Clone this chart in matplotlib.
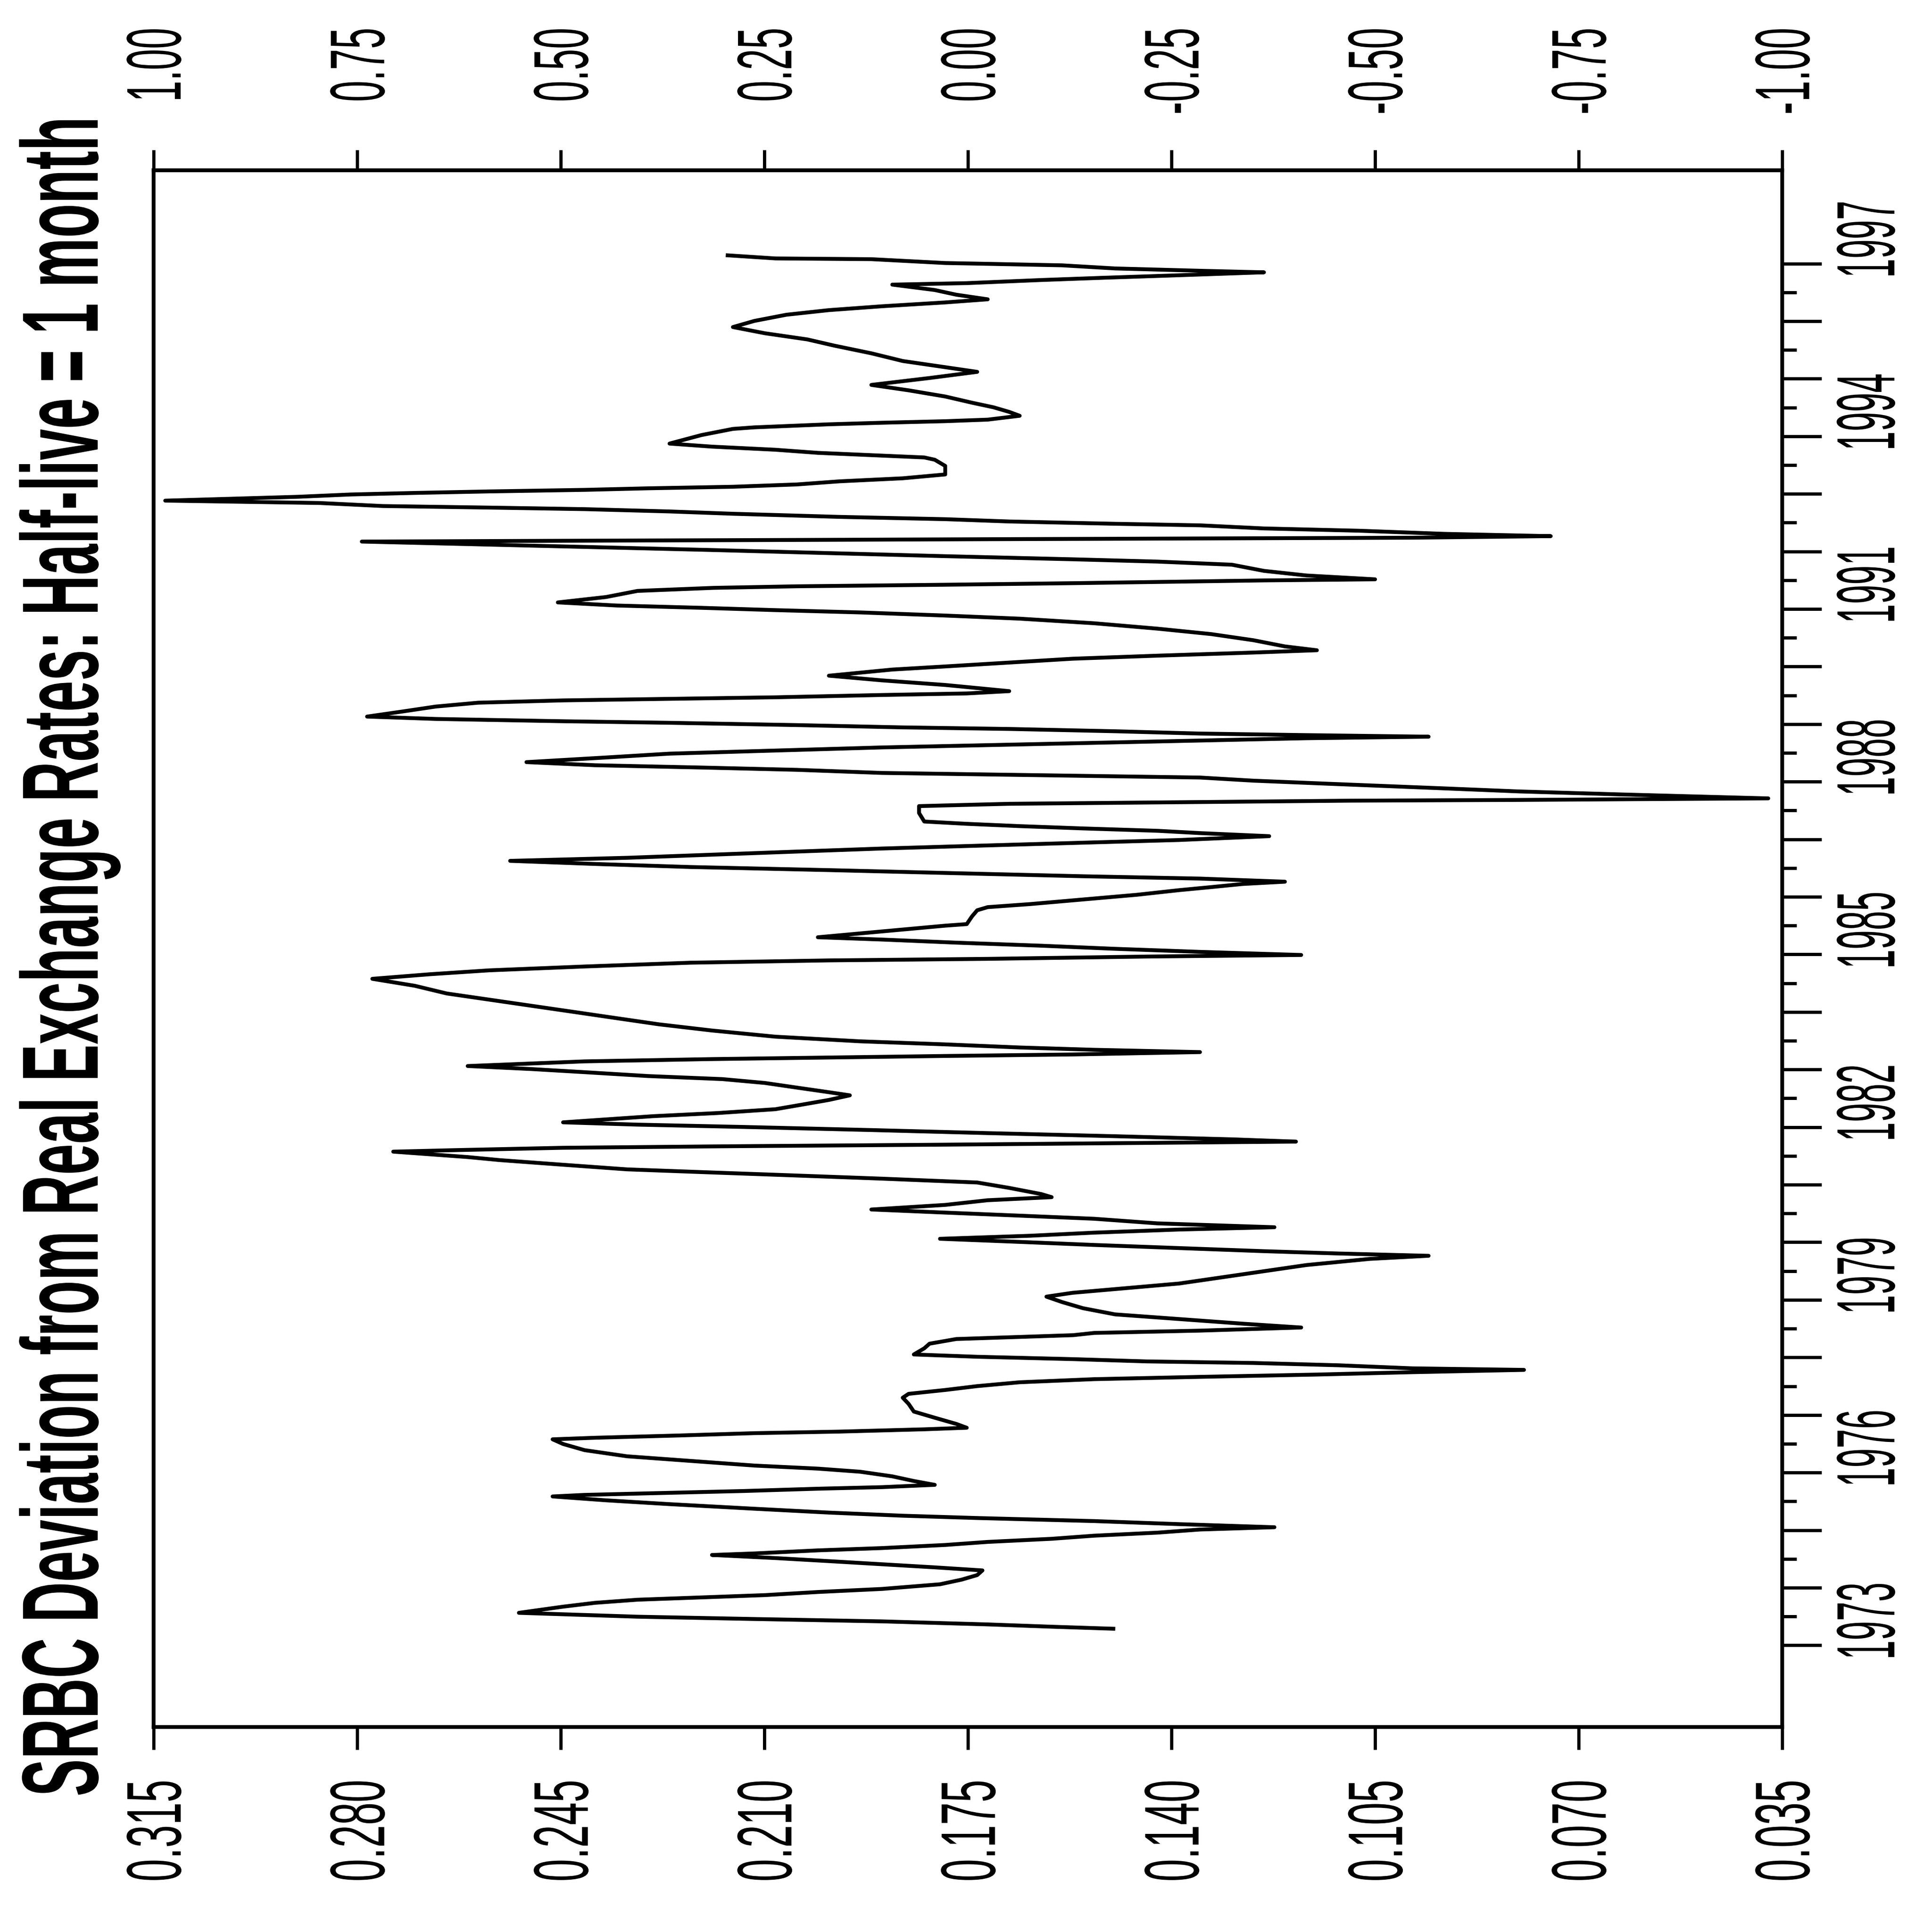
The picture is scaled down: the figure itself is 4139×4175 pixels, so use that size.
import numpy as np
import matplotlib
matplotlib.use("Agg")
import matplotlib.pyplot as plt
from matplotlib import patheffects
from matplotlib.font_manager import FontProperties
from matplotlib.transforms import Affine2D, blended_transform_factory, offset_copy

# SRBC deviation series (decimal year, deviation), newest observation first
dates = np.array([
    1997.143, 1997.089, 1997.076, 1997.009, 1996.995, 1996.969, 1996.915, 1996.875,
    1996.848, 1996.794, 1996.754, 1996.714, 1996.660, 1996.634, 1996.540, 1996.459,
    1996.379, 1996.325, 1996.258, 1996.191, 1996.111, 1996.004, 1995.897, 1995.789,
    1995.682, 1995.575, 1995.441, 1995.307, 1995.200, 1995.119, 1995.012, 1994.892,
    1994.798, 1994.691, 1994.583,
    1994.503, 1994.423, 1994.356, 1994.289, 1994.262, 1994.235, 1994.208, 1994.155,
    1994.128, 1994.021, 1993.873, 1993.820, 1993.766, 1993.712, 1993.672, 1993.632,
    1993.592, 1993.485, 1993.337, 1993.270, 1993.217, 1993.163, 1993.123, 1993.096,
    1993.069, 1993.042, 1993.016, 1992.989, 1992.949, 1992.882, 1992.841, 1992.788,
    1992.761, 1992.734, 1992.694, 1992.654, 1992.600, 1992.560, 1992.520, 1992.480,
    1992.453, 1992.399, 1992.359, 1992.305, 1992.265, 1992.238, 1992.225, 1992.212,
    1992.198, 1992.185, 1992.171, 1992.118, 1992.078, 1992.024, 1991.970, 1991.917,
    1991.863, 1991.823, 1991.769, 1991.662, 1991.582, 1991.515, 1991.496, 1991.475,
    1991.448, 1991.421, 1991.394, 1991.367, 1991.314,
    1991.208, 1991.114, 1991.060, 1991.020, 1990.980, 1990.940, 1990.886, 1990.832,
    1990.752, 1990.658, 1990.564, 1990.457, 1990.350, 1990.283, 1990.243, 1990.189,
    1990.136, 1990.069, 1990.002, 1989.948, 1989.894, 1989.841, 1989.760, 1989.680,
    1989.573, 1989.533, 1989.506, 1989.466, 1989.439, 1989.412, 1989.372, 1989.305,
    1989.224, 1989.131, 1989.090, 1989.050, 1989.023, 1988.983, 1988.943, 1988.916,
    1988.876, 1988.836, 1988.809, 1988.782, 1988.755, 1988.715, 1988.675, 1988.635,
    1988.595, 1988.541, 1988.487, 1988.420, 1988.340, 1988.286, 1988.246, 1988.206,
    1988.152, 1988.112, 1988.072,
    1988.018, 1987.965, 1987.884, 1987.831, 1987.777, 1987.710, 1987.683, 1987.670,
    1987.643, 1987.616, 1987.576, 1987.456, 1987.308, 1987.268, 1987.228, 1987.188,
    1987.147, 1987.107, 1987.054, 1986.987, 1986.946, 1986.893, 1986.839, 1986.786,
    1986.732, 1986.678, 1986.625, 1986.571, 1986.518, 1986.464, 1986.410, 1986.357,
    1986.317, 1986.263, 1986.223, 1986.169, 1986.116, 1986.035, 1985.955, 1985.874,
    1985.821, 1985.767, 1985.660, 1985.526, 1985.499, 1985.432, 1985.365, 1985.298,
    1985.258, 1985.204, 1985.151, 1985.097, 1985.044, 1984.990, 1984.963, 1984.923,
    1984.896, 1984.856,
    1984.790, 1984.723, 1984.656, 1984.576, 1984.455, 1984.321, 1984.214, 1984.107,
    1984.000, 1983.892, 1983.785, 1983.678, 1983.571, 1983.490, 1983.437, 1983.383,
    1983.343, 1983.303, 1983.262, 1983.236, 1983.209, 1983.182, 1983.142, 1983.061,
    1983.008, 1982.954, 1982.887, 1982.834, 1982.767, 1982.686, 1982.606, 1982.552,
    1982.472, 1982.391, 1982.311, 1982.244, 1982.190, 1982.083, 1982.043, 1982.003,
    1981.949, 1981.896, 1981.842, 1981.788, 1981.748, 1981.721, 1981.695, 1981.668,
    1981.641,
    1981.601, 1981.574, 1981.480, 1981.427, 1981.346, 1981.266, 1981.212, 1981.159,
    1981.105, 1981.038, 1980.944, 1980.837, 1980.783, 1980.730, 1980.649, 1980.569,
    1980.515, 1980.462, 1980.408, 1980.328, 1980.261, 1980.221, 1980.167, 1980.113,
    1980.060, 1980.006, 1979.953, 1979.899, 1979.845, 1979.805, 1979.765, 1979.711,
    1979.604, 1979.497, 1979.390, 1979.283, 1979.202, 1979.122, 1979.055, 1978.961,
    1978.854, 1978.747, 1978.666, 1978.586, 1978.519, 1978.465, 1978.425,
    1978.386, 1978.319, 1978.238, 1978.158, 1978.051, 1978.011, 1977.970, 1977.930,
    1977.903, 1977.863, 1977.810, 1977.783, 1977.743, 1977.702, 1977.662, 1977.622,
    1977.568, 1977.501, 1977.434, 1977.367, 1977.300, 1977.193, 1977.059, 1976.952,
    1976.845, 1976.778, 1976.751, 1976.711, 1976.684, 1976.644, 1976.604, 1976.577,
    1976.496, 1976.389, 1976.282, 1976.202, 1976.121, 1976.068, 1976.014, 1975.934,
    1975.853, 1975.786, 1975.746, 1975.719, 1975.679, 1975.639, 1975.612, 1975.585,
    1975.518, 1975.451, 1975.371, 1975.304, 1975.250, 1975.210,
    1975.157, 1975.104, 1975.050, 1975.010, 1974.956, 1974.903, 1974.849, 1974.795,
    1974.742, 1974.688, 1974.648, 1974.595, 1974.568, 1974.514, 1974.461, 1974.407,
    1974.353, 1974.300, 1974.219, 1974.139, 1974.059, 1973.978, 1973.925, 1973.871,
    1973.831, 1973.791, 1973.737, 1973.670, 1973.563, 1973.496, 1973.456, 1973.415,
    1973.362, 1973.322, 1973.287,
])

deviation = np.array([
    0.2163, 0.2081, 0.1916, 0.1789, 0.1716, 0.1588, 0.1497, 0.1351,
    0.1241, 0.1396, 0.1515, 0.1624, 0.1752, 0.1880, 0.1807, 0.1770,
    0.1716, 0.1789, 0.1898, 0.1989, 0.2062, 0.2117, 0.2154, 0.2099,
    0.2026, 0.1980, 0.1916, 0.1862, 0.1789, 0.1734, 0.1816, 0.1916,
    0.1852, 0.1789, 0.1743,
    0.1706, 0.1679, 0.1661, 0.1716, 0.1789, 0.1898, 0.1989, 0.2117,
    0.2154, 0.2208, 0.2263, 0.2190, 0.2081, 0.2008, 0.1916, 0.1825,
    0.1807, 0.1789, 0.1789, 0.1862, 0.1971, 0.2044, 0.2154, 0.2300,
    0.2409, 0.2573, 0.2701, 0.2811, 0.2902, 0.3130, 0.2865, 0.2756,
    0.2573, 0.2409, 0.2263, 0.2154, 0.1971, 0.1789, 0.1679, 0.1497,
    0.1351, 0.1241, 0.1077, 0.0931, 0.0748, 0.0986, 0.1351, 0.1716,
    0.2081, 0.2446, 0.2792, 0.2573, 0.2409, 0.2190, 0.1989, 0.1789,
    0.1570, 0.1424, 0.1296, 0.1241, 0.1168, 0.1050, 0.1241, 0.1387,
    0.1570, 0.1789, 0.2044, 0.2187, 0.2318,
    0.2372, 0.2455, 0.2354, 0.2208, 0.2081, 0.1935, 0.1789, 0.1661,
    0.1533, 0.1424, 0.1332, 0.1259, 0.1205, 0.1150, 0.1259, 0.1424,
    0.1570, 0.1679, 0.1789, 0.1880, 0.1935, 0.1989, 0.1898, 0.1789,
    0.1679, 0.1752, 0.1898, 0.2081, 0.2263, 0.2446, 0.2592, 0.2665,
    0.2719, 0.2783, 0.2665, 0.2446, 0.2263, 0.2044, 0.1862, 0.1679,
    0.1497, 0.1351, 0.1168, 0.0958, 0.1168, 0.1351, 0.1533, 0.1716,
    0.1898, 0.2081, 0.2263, 0.2373, 0.2509, 0.2391, 0.2208, 0.2044,
    0.1898, 0.1624, 0.1351,
    0.1260, 0.1132, 0.0931, 0.0803, 0.0621, 0.0374, 0.0803, 0.1095,
    0.1387, 0.1679, 0.1834, 0.1834, 0.1825, 0.1752, 0.1661, 0.1552,
    0.1424, 0.1351, 0.1232, 0.1387, 0.1533, 0.1716, 0.1898, 0.2044,
    0.2190, 0.2336, 0.2537, 0.2391, 0.2227, 0.1989, 0.1770, 0.1551,
    0.1351, 0.1205, 0.1278, 0.1332, 0.1387, 0.1460, 0.1551, 0.1643,
    0.1716, 0.1734, 0.1743, 0.1752, 0.1789, 0.1862, 0.1935, 0.2008,
    0.1898, 0.1770, 0.1624, 0.1497, 0.1351, 0.1177, 0.1442, 0.1716,
    0.1989, 0.2227,
    0.2409, 0.2573, 0.2674, 0.2774, 0.2701, 0.2646, 0.2573, 0.2500,
    0.2427, 0.2354, 0.2281, 0.2190, 0.2081, 0.1935, 0.1789, 0.1661,
    0.1533, 0.1351, 0.1570, 0.1789, 0.1989, 0.2190, 0.2409, 0.2610,
    0.2500, 0.2409, 0.2300, 0.2172, 0.2099, 0.2044, 0.1989, 0.1953,
    0.1989, 0.2035, 0.2081, 0.2181, 0.2291, 0.2446, 0.2318, 0.2136,
    0.1916, 0.1716, 0.1497, 0.1296, 0.1186, 0.1497, 0.1789, 0.2154,
    0.2446,
    0.2628, 0.2738, 0.2610, 0.2555, 0.2446, 0.2336, 0.2190, 0.2044,
    0.1898, 0.1734, 0.1679, 0.1624, 0.1606, 0.1716, 0.1789, 0.1916,
    0.1789, 0.1661, 0.1533, 0.1424, 0.1223, 0.1387, 0.1533, 0.1643,
    0.1798, 0.1661, 0.1533, 0.1387, 0.1241, 0.1113, 0.0958, 0.1059,
    0.1168, 0.1241, 0.1314, 0.1387, 0.1479, 0.1570, 0.1615, 0.1588,
    0.1552, 0.1497, 0.1387, 0.1278, 0.1177, 0.1351, 0.1533,
    0.1569, 0.1770, 0.1816, 0.1825, 0.1843, 0.1734, 0.1570, 0.1442,
    0.1259, 0.1113, 0.0986, 0.0794, 0.0986, 0.1150, 0.1351, 0.1533,
    0.1661, 0.1734, 0.1789, 0.1852, 0.1862, 0.1852, 0.1843, 0.1807,
    0.1770, 0.1752, 0.1825, 0.1971, 0.2117, 0.2245, 0.2391, 0.2464,
    0.2446, 0.2409, 0.2336, 0.2227, 0.2117, 0.2008, 0.1935, 0.1880,
    0.1843, 0.1807, 0.1898, 0.2008, 0.2136, 0.2300, 0.2409, 0.2464,
    0.2373, 0.2263, 0.2117, 0.1989, 0.1862, 0.1734,
    0.1533, 0.1387, 0.1223, 0.1351, 0.1424, 0.1533, 0.1606, 0.1716,
    0.1789, 0.1898, 0.2008, 0.2117, 0.2190, 0.2081, 0.1989, 0.1898,
    0.1807, 0.1725, 0.1734, 0.1761, 0.1798, 0.1898, 0.2008, 0.2099,
    0.2208, 0.2318, 0.2391, 0.2446, 0.2522, 0.2318, 0.2117, 0.1898,
    0.1716, 0.1606, 0.1500,
])

left_ticks = [0.315, 0.280, 0.245, 0.210, 0.175, 0.140, 0.105, 0.070, 0.035]
left_labels = ["0.315", "0.280", "0.245", "0.210", "0.175", "0.140", "0.105", "0.070", "0.035"]
right_ticks = [1.00, 0.75, 0.50, 0.25, 0.00, -0.25, -0.50, -0.75, -1.00]
right_labels = ["1.00", "0.75", "0.50", "0.25", "0.00", "-0.25", "-0.50", "-0.75", "-1.00"]
year_ticks = np.arange(1973, 1998)
half_year_ticks = np.arange(1973.5, 1997.0, 1.0)
year_labels = [1973, 1976, 1979, 1982, 1985, 1988, 1991, 1994, 1997]
title = "SRBC Deviation from Real Exchange Rates: Half-live = 1 month"


class Tall(patheffects.AbstractPathEffect):
    """Draw a text's glyphs stretched perpendicular to the reading direction."""

    def __init__(self, factor):
        super().__init__()
        self.factor = factor

    def draw_path(self, renderer, gc, tpath, affine, rgbFace=None):
        ext = tpath.get_extents()
        yc = 0.5 * (ext.y0 + ext.y1)
        tall = Affine2D().translate(0, -yc).scale(1.0, self.factor).translate(0, yc)
        renderer.draw_path(gc, tpath, tall + affine, rgbFace)


DPI = 100
W, H = 4139, 4175
fig = plt.figure(figsize=(W / DPI, H / DPI), dpi=DPI, facecolor="white")
renderer = fig.canvas.get_renderer()

FAMILY = ["Liberation Sans", "DejaVu Sans"]


def fitted_font(text, length_px, cap_px, weight="normal"):
    """Font whose run length is length_px, plus the stretch that gives cap_px."""
    base = FontProperties(family=FAMILY, weight=weight, size=100)
    width = renderer.get_text_width_height_descent(text, base, ismath=False)[0]
    size = 100 * length_px / width
    cap_natural = 0.716 * size * DPI / 72
    return FontProperties(family=FAMILY, weight=weight, size=size), cap_px / cap_natural


def em_px(prop):
    return prop.get_size_in_points() * DPI / 72


# frame in pixels: x 332..3852, y 368..3732 (from top)
ax = fig.add_axes([332 / W, (H - 3732) / H, 3520 / W, 3364 / H])
ax.plot(deviation, dates, color="black", lw=6, solid_joinstyle="round")
ax.set_xlim(0.315, 0.035)
ax.set_ylim(1971.58, 1998.62)

for sp in ax.spines.values():
    sp.set_linewidth(6)

ax.set_xticks(left_ticks)
ax.tick_params(axis="x", direction="out", length=35, width=5, bottom=True, top=False,
               labelbottom=False, labeltop=False)
ax.yaxis.tick_right()
ax.set_yticks(year_ticks)
ax.set_yticks(half_year_ticks, minor=True)
ax.tick_params(axis="y", which="major", direction="out", length=61, width=5,
               left=False, right=True, labelleft=False, labelright=False)
ax.tick_params(axis="y", which="minor", direction="out", length=22, width=5,
               left=False, right=True, labelleft=False, labelright=False)

ax2 = ax.twiny()
ax2.set_xlim(1.0, -1.0)
ax2.set_xticks(right_ticks)
ax2.tick_params(axis="x", direction="out", length=32, width=5, top=True, bottom=False,
                labeltop=False, labelbottom=False)
for sp in ax2.spines.values():
    sp.set_visible(False)

# bottom scale labels (deviation)
bottom_font, bottom_k = fitted_font("0.315", 220, 120)
bottom_tr = offset_copy(blended_transform_factory(ax.transData, ax.transAxes), fig=fig,
                        x=0.098 * em_px(bottom_font), y=0, units="dots")
for v, lab in zip(left_ticks, left_labels):
    t = ax.text(v, -0.0666, lab, transform=bottom_tr, rotation=90, ha="center", va="center",
                fontproperties=bottom_font, color="black", clip_on=False)
    t.set_path_effects([Tall(bottom_k)])

# top scale labels
top_font, top_k = fitted_font("1.00", 160, 120)
top_tr = offset_copy(blended_transform_factory(ax2.transData, ax.transAxes), fig=fig,
                     x=0.098 * em_px(top_font), y=0, units="dots")
for v, lab in zip(right_ticks, right_labels):
    t = ax2.text(v, 1.0916, lab, transform=top_tr, rotation=90, ha="center", va="top",
                 fontproperties=top_font, color="black", clip_on=False)
    t.set_path_effects([Tall(top_k)])

# year labels on the time axis
year_font, year_k = fitted_font("1997", 167, 128)
year_tr = offset_copy(blended_transform_factory(ax.transAxes, ax.transData), fig=fig,
                      x=0.098 * em_px(year_font), y=0, units="dots")
for yr in year_labels:
    t = ax.text(1.0511, yr + 0.42, str(yr), transform=year_tr, rotation=90, ha="center", va="center",
                fontproperties=year_font, color="black", clip_on=False)
    t.set_path_effects([Tall(year_k)])

# title
title_font, title_k = fitted_font(title, 3630, 168, weight="bold")
tt = fig.text(151 / W, 1 - 2066 / H, title, rotation=90, ha="center", va="center",
              fontproperties=title_font, color="black")
tt.set_path_effects([Tall(title_k)])

fig.savefig("out.png", dpi=DPI, facecolor="white")
